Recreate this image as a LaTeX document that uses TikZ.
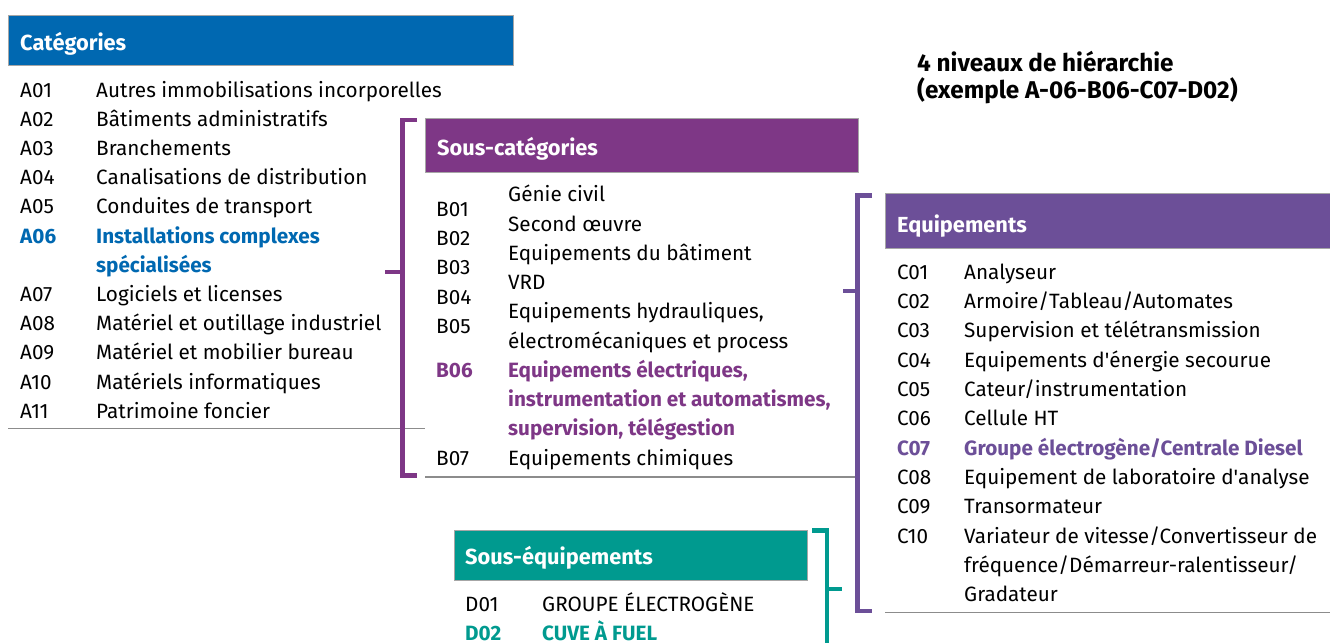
\documentclass[tikz,border=0pt]{standalone}
\usepackage{fontspec}
\setmainfont{Fira Sans}
\definecolor{catblue}{HTML}{0068B1}
\definecolor{subpurple}{HTML}{7E3786}
\definecolor{eqpurple}{HTML}{6C4F98}
\definecolor{teal}{HTML}{009A8F}
\definecolor{rulegray}{HTML}{8C8C8C}
\newcommand{\bodyfont}{\fontsize{20.7}{24}\selectfont}
\newcommand{\headfont}{\fontsize{21.8}{26}\selectfont\bfseries}
\newcommand{\titlefont}{\fontsize{24.3}{28}\selectfont\bfseries}
\begin{document}
\begin{tikzpicture}[x=1pt,y=-1pt,
  txt/.style={anchor=base west, inner sep=0pt, font=\bodyfont},
  hl/.style={txt, font=\bodyfont\bfseries},
  headbox/.style={anchor=north west, inner sep=0pt, draw=gray!70, line width=0.8pt},
  headtitle/.style={anchor=base west, inner sep=0pt, text=white, font=\headfont},
  sep/.style={draw=rulegray, line width=1.3pt},
  brk/.style={line width=4.5pt, line cap=butt, line join=miter},
  ttl/.style={anchor=base west, inner sep=0pt, font=\titlefont, align=left}
]
\useasboundingbox (0,0) rectangle (1330,643);

% ---------- Catégories ----------
\node[headbox, fill=catblue, minimum width=505pt, minimum height=50pt] (cath) at (8,15) {};
\node[headtitle] (catt) at (20,50) {Catégories};
\node[txt] (a01) at (20,97) {A01};   \node[txt] (a01l) at (96,97) {Autres immobilisations incorporelles};
\node[txt] (a02) at (20,126.2) {A02}; \node[txt] (a02l) at (96,126.2) {Bâtiments administratifs};
\node[txt] (a03) at (20,155.4) {A03}; \node[txt] (a03l) at (96,155.4) {Branchements};
\node[txt] (a04) at (20,184.6) {A04}; \node[txt] (a04l) at (96,184.6) {Canalisations de distribution};
\node[txt] (a05) at (20,213.8) {A05}; \node[txt] (a05l) at (96,213.8) {Conduites de transport};
\node[hl, text=catblue] (a06) at (20,243) {A06}; \node[hl, text=catblue] (a06l) at (96,243) {Installations complexes};
\node[hl, text=catblue] (a06m) at (96,272.2) {spécialisées};
\node[txt] (a07) at (20,301.4) {A07}; \node[txt] (a07l) at (96,301.4) {Logiciels et licenses};
\node[txt] (a08) at (20,330.6) {A08}; \node[txt] (a08l) at (96,330.6) {Matériel et outillage industriel};
\node[txt] (a09) at (20,359.8) {A09}; \node[txt] (a09l) at (96,359.8) {Matériel et mobilier bureau};
\node[txt] (a10) at (20,389) {A10};   \node[txt] (a10l) at (96,389) {Matériels informatiques};
\node[txt] (a11) at (20,418.2) {A11}; \node[txt] (a11l) at (96,418.2) {Patrimoine foncier};
\coordinate (aline1) at (8,428.5); \coordinate (aline2) at (425,428.5);
\draw[sep] (aline1) -- (aline2);

% ---------- bracket 1 ----------
\coordinate (b1t) at (417,120); \coordinate (b1tc) at (402.5,120);
\coordinate (b1b) at (417,475.5); \coordinate (b1bc) at (402.5,475.5);
\coordinate (b1m) at (385,272); \coordinate (b1mc) at (402.5,272);
\draw[brk, subpurple] (b1t) -- (b1tc) -- (b1bc) -- (b1b);
\draw[brk, subpurple] (b1m) -- (b1mc);

% ---------- Sous-catégories ----------
\node[headbox, fill=subpurple, minimum width=433pt, minimum height=54pt] (subh) at (425,118) {};
\node[headtitle] (subt) at (437,155) {Sous-catégories};
\node[txt] (b01) at (436,216.7) {B01};
\node[txt] (b02) at (436,245.8) {B02};
\node[txt] (b03) at (436,274.9) {B03};
\node[txt] (b04) at (436,304) {B04};
\node[txt] (b05) at (436,333.1) {B05};
\node[txt] (b01l) at (508,201.7) {Génie civil};
\node[txt] (b02l) at (508,231) {Second œuvre};
\node[txt] (b03l) at (508,260.2) {Equipements du bâtiment};
\node[txt] (b04l) at (508,289.5) {VRD};
\node[txt] (b05l) at (508,318.7) {Equipements hydrauliques,};
\node[txt] (b05m) at (508,348) {électromécaniques et process};
\node[hl, text=subpurple] (b06) at (436,377.2) {B06};
\node[hl, text=subpurple] (b06l) at (508,377.2) {Equipements électriques,};
\node[hl, text=subpurple] (b06m) at (508,406.5) {instrumentation et automatismes,};
\node[hl, text=subpurple] (b06n) at (508,435.7) {supervision, télégestion};
\node[txt] (b07) at (436,465) {B07}; \node[txt] (b07l) at (508,465) {Equipements chimiques};
\coordinate (bline1) at (425,477); \coordinate (bline2) at (857,477);
\draw[sep] (bline1) -- (bline2);

% ---------- bracket 2 ----------
\coordinate (b2t) at (872,195.5); \coordinate (b2tc) at (857.5,195.5);
\coordinate (b2b) at (872,611); \coordinate (b2bc) at (857.5,611);
\coordinate (b2m) at (843,291); \coordinate (b2mc) at (857.5,291);
\draw[brk, eqpurple] (b2t) -- (b2tc) -- (b2bc) -- (b2b);
\draw[brk, eqpurple] (b2m) -- (b2mc);

% ---------- Equipements ----------
\node[headbox, fill=eqpurple, minimum width=445pt, minimum height=55pt] (eqh) at (885,193) {};
\node[headtitle] (eqt) at (897,232) {Equipements};
\node[txt] (c01) at (897,279.3) {C01}; \node[txt] (c01l) at (964,279.3) {Analyseur};
\node[txt] (c02) at (897,308.6) {C02}; \node[txt] (c02l) at (964,308.6) {Armoire/Tableau/Automates};
\node[txt] (c03) at (897,337.9) {C03}; \node[txt] (c03l) at (964,337.9) {Supervision et télétransmission};
\node[txt] (c04) at (897,367.2) {C04}; \node[txt] (c04l) at (964,367.2) {Equipements d\textquotesingle énergie secourue};
\node[txt] (c05) at (897,396.5) {C05}; \node[txt] (c05l) at (964,396.5) {Cateur/instrumentation};
\node[txt] (c06) at (897,425.8) {C06}; \node[txt] (c06l) at (964,425.8) {Cellule HT};
\node[hl, text=eqpurple] (c07) at (897,455.1) {C07}; \node[hl, text=eqpurple] (c07l) at (964,455.1) {Groupe électrogène/Centrale Diesel};
\node[txt] (c08) at (897,484.4) {C08}; \node[txt] (c08l) at (964,484.4) {Equipement de laboratoire d\textquotesingle analyse};
\node[txt] (c09) at (897,513.7) {C09}; \node[txt] (c09l) at (964,513.7) {Transormateur};
\node[txt] (c10) at (897,543) {C10}; \node[txt] (c10l) at (964,543) {Variateur de vitesse/Convertisseur de};
\node[txt] (c10m) at (964,572.3) {fréquence/Démarreur-ralentisseur/};
\node[txt] (c10n) at (964,601.6) {Gradateur};
\coordinate (cline1) at (885,612.5); \coordinate (cline2) at (1330,612.5);
\draw[sep] (cline1) -- (cline2);

% ---------- bracket 3 ----------
\coordinate (b3t) at (812,530.5); \coordinate (b3tc) at (827,530.5);
\coordinate (b3b) at (827,643);
\coordinate (b3m) at (842,589); \coordinate (b3mc) at (827,589);
\draw[brk, teal] (b3t) -- (b3tc) -- (b3b);
\draw[brk, teal] (b3mc) -- (b3m);

% ---------- Sous-équipements ----------
\node[headbox, fill=teal, minimum width=353pt, minimum height=50pt] (deh) at (454,530) {};
\node[headtitle] (det) at (465,564) {Sous-équipements};
\node[txt] (d01) at (465,611) {D01}; \node[txt] (d01l) at (542,611) {GROUPE ÉLECTROGÈNE};
\node[hl, text=teal] (d02) at (465,640) {D02}; \node[hl, text=teal] (d02l) at (542,640) {CUVE À FUEL};

% ---------- title ----------
\node[ttl] (t1) at (917,71) {4 niveaux de hiérarchie};
\node[ttl] (t2) at (917,98.3) {(exemple A-06-B06-C07-D02)};
\end{tikzpicture}
\end{document}
